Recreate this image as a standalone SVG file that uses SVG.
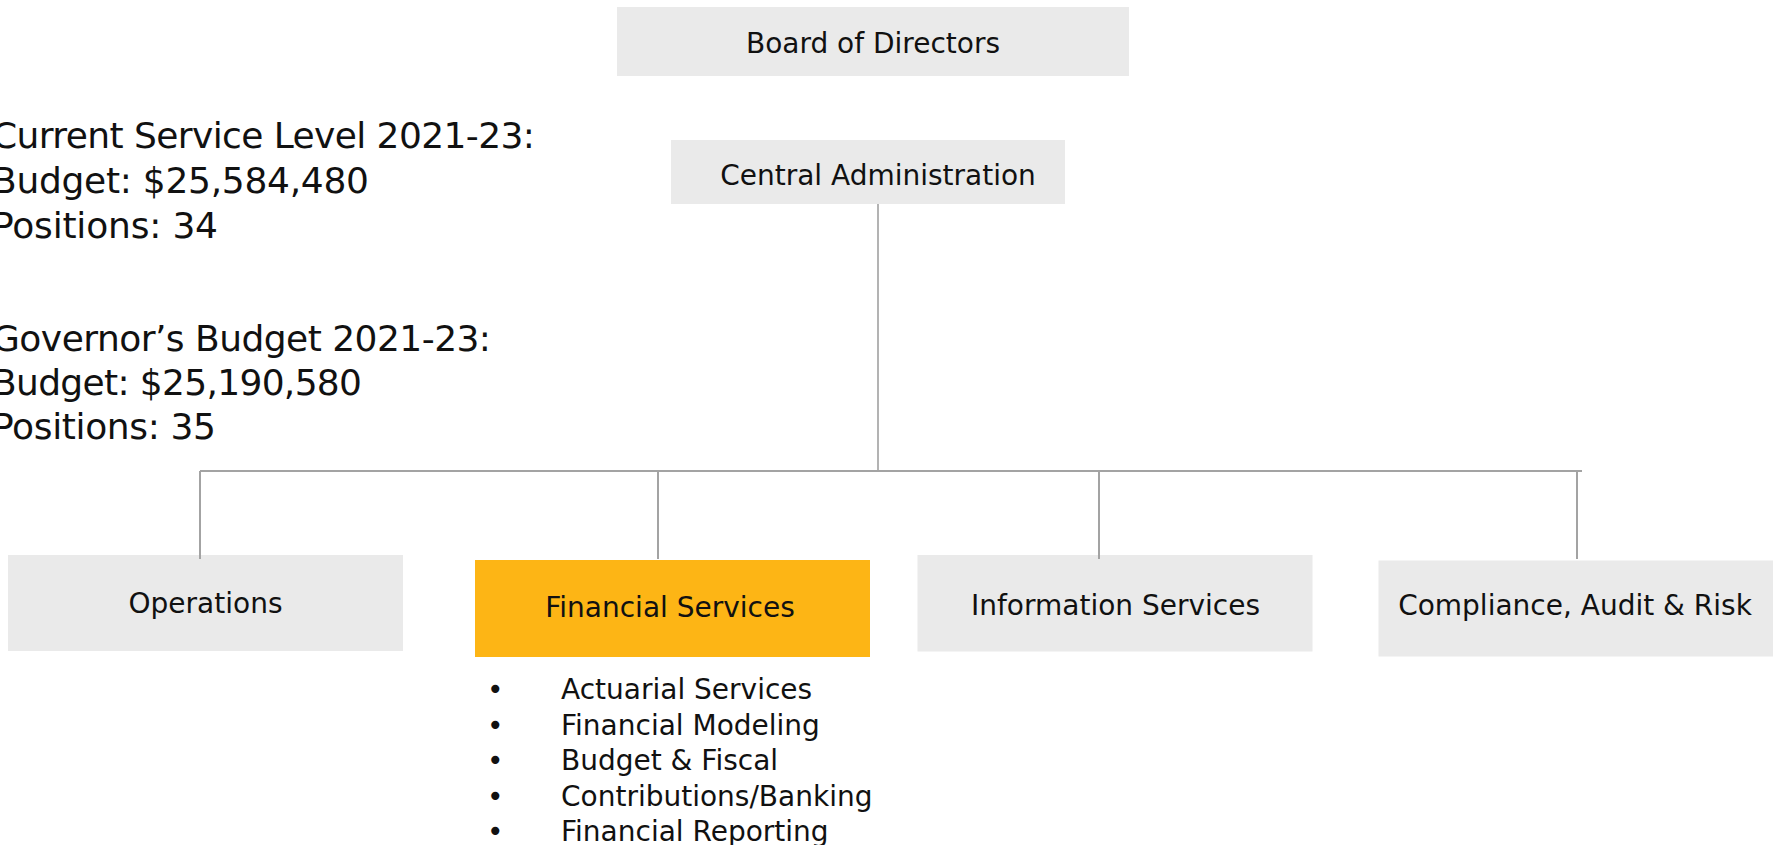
<svg xmlns="http://www.w3.org/2000/svg" width="1776" height="845" viewBox="0 0 1776 845">
<style>
text { font-family: "DejaVu Sans", "Liberation Sans", sans-serif; fill: #111; }
.box { fill: #eaeaea; }
.hl { fill: #fdb515; }
.lbl { font-size: 28px; text-anchor: middle; }
.sum { font-size: 36px; }
.li { font-size: 28px; }
.conn { stroke: #a3a3a3; stroke-width: 2; fill: none; }
.trunk { stroke: #808080; stroke-width: 1.2; fill: none; }
</style>
<g id="summary">
<text class="sum" x="-8" y="148" textLength="543">Current Service Level 2021-23:</text>
<text class="sum" x="-8" y="193" textLength="377">Budget: $25,584,480</text>
<text class="sum" x="-8" y="237.5" textLength="226">Positions: 34</text>
<text class="sum" x="-8" y="351" textLength="499">Governor’s Budget 2021-23:</text>
<text class="sum" x="-8" y="395" textLength="370">Budget: $25,190,580</text>
<text class="sum" x="-8" y="439" textLength="224">Positions: 35</text>
</g>
<g id="board">
<rect class="box" x="617" y="7" width="512" height="69"/>
<text class="lbl" x="873" y="53">Board of Directors</text>
</g>
<g id="central">
<rect class="box" x="671" y="140" width="394" height="64"/>
<text class="lbl" x="878" y="185">Central Administration</text>
</g>
<g id="operations">
<rect class="box" x="8" y="555" width="395" height="96"/>
<text class="lbl" x="205.5" y="613">Operations</text>
</g>
<g id="financial">
<rect class="hl" x="475" y="560" width="395" height="97"/>
<text class="lbl" x="670" y="617">Financial Services</text>
</g>
<g id="information">
<rect class="box" x="917.5" y="555" width="395" height="96.5"/>
<text class="lbl" x="1115.5" y="615">Information Services</text>
</g>
<g id="compliance">
<rect class="box" x="1378.5" y="560.5" width="394.5" height="96"/>
<text class="lbl" x="1575" y="615">Compliance, Audit &amp; Risk</text>
</g>
<g id="financial-list">
<text class="li" x="487" y="699">•</text><text class="li" x="561" y="699">Actuarial Services</text>
<text class="li" x="487" y="735">•</text><text class="li" x="561" y="735">Financial Modeling</text>
<text class="li" x="487" y="770">•</text><text class="li" x="561" y="770">Budget &amp; Fiscal</text>
<text class="li" x="487" y="805.5">•</text><text class="li" x="561" y="805.5">Contributions/Banking</text>
<text class="li" x="487" y="840.5">•</text><text class="li" x="561" y="840.5">Financial Reporting</text>
</g>
<g id="connectors">
<line class="trunk" x1="878" y1="204" x2="878" y2="471"/>
<line class="conn" x1="200" y1="471" x2="1582" y2="471"/>
<line class="conn" x1="200" y1="471" x2="200" y2="559"/>
<line class="conn" x1="658" y1="471" x2="658" y2="559"/>
<line class="conn" x1="1099" y1="471" x2="1099" y2="559"/>
<line class="conn" x1="1577" y1="471" x2="1577" y2="559"/>
</g>
</svg>
